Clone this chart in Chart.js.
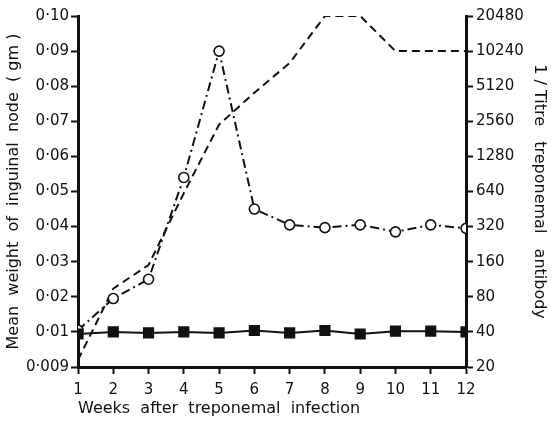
<!DOCTYPE html>
<html lang="en">
<head>
    <meta charset="UTF-8">
    <title>Inguinal node weight and treponemal antibody</title>
    <style>
        body, html {
            margin: 0;
            padding: 0;
            background: #fff;
        }
        .wrap {
            width: 553px;
            height: 422px;
        }
    </style>
</head>
<body>
    <div class="wrap"><canvas id="nodeChart" width="553" height="422"></canvas></div>
    <script src="https://cdn.jsdelivr.net/npm/chart.js"></script>
    <script>
        const weeks = [1, 2, 3, 4, 5, 6, 7, 8, 9, 10, 11, 12];
        const weightInfected = [0.0105, 0.0195, 0.025, 0.054, 0.090, 0.045, 0.0405, 0.0397, 0.0405, 0.0385, 0.0405, 0.0395];
        const weightControl = [0.00994, 0.0100, 0.00997, 0.0100, 0.00997, 0.0104, 0.00997, 0.0104, 0.00994, 0.0102, 0.0102, 0.0100];
        const titre = [23, 94, 150, 620, 2400, 4500, 8100, 20480, 20480, 10240, 10240, 10240];
        const weightTicks = ['0·009', '0·01', '0·02', '0·03', '0·04', '0·05', '0·06', '0·07', '0·08', '0·09', '0·10'];
        const titreTicks = ['20', '40', '80', '160', '320', '640', '1280', '2560', '5120', '10240', '20480'];

        // left axis: 0.009 at the foot, then 0.01 .. 0.10 evenly spaced
        function weightIdx(v) {
            return v >= 0.01 ? v * 100 : (v - 0.009) / 0.001;
        }
        // right axis: doubling dilutions from 1/20
        function titreIdx(t) {
            return Math.log2(t / 20);
        }

        const font = { family: 'DejaVu Sans', size: 15 };
        const titleFont = { family: 'DejaVu Sans', size: 16 };
        const black = '#111';

        new Chart(document.getElementById('nodeChart'), {
            type: 'line',
            data: {
                datasets: [
                    {
                        label: 'Control node weight',
                        data: weeks.map((w, i) => ({ x: w, y: weightIdx(weightControl[i]) })),
                        yAxisID: 'y',
                        borderColor: black,
                        borderWidth: 2,
                        pointStyle: 'rect',
                        pointRadius: 6.5,
                        pointBackgroundColor: black,
                        pointBorderColor: black,
                        tension: 0
                    },
                    {
                        label: 'Infected node weight',
                        data: weeks.map((w, i) => ({ x: w, y: weightIdx(weightInfected[i]) })),
                        yAxisID: 'y',
                        borderColor: black,
                        borderWidth: 2,
                        borderDash: [9, 4, 2, 4],
                        pointRadius: 5,
                        pointBackgroundColor: '#fff',
                        pointBorderColor: black,
                        pointBorderWidth: 1.6,
                        tension: 0
                    },
                    {
                        label: 'Titre',
                        data: weeks.map((w, i) => ({ x: w, y: titreIdx(titre[i]) })),
                        yAxisID: 'y2',
                        borderColor: black,
                        borderWidth: 2,
                        borderDash: [8, 5],
                        pointRadius: 0,
                        tension: 0
                    }
                ]
            },
            options: {
                responsive: false,
                animation: false,
                layout: { padding: { top: 16, right: 0, left: 0, bottom: 0 } },
                plugins: {
                    legend: { display: false },
                    tooltip: { enabled: false }
                },
                scales: {
                    x: {
                        type: 'linear',
                        min: 1,
                        max: 12,
                        afterBuildTicks: (axis) => {
                            axis.ticks = weeks.map(w => ({ value: w }));
                        },
                        afterFit: (scale) => { scale.height = 55; },
                        border: { color: black, width: 3 },
                        grid: { drawOnChartArea: false, tickLength: 7, tickColor: black, tickWidth: 2 },
                        ticks: { color: black, font: font, padding: 7, maxRotation: 0 },
                        title: {
                            display: true,
                            text: 'Weeks  after  treponemal  infection',
                            align: 'start',
                            color: black,
                            font: titleFont,
                            padding: { top: 1 }
                        }
                    },
                    y: {
                        type: 'linear',
                        position: 'left',
                        min: 0,
                        max: 10,
                        afterFit: (scale) => { scale.width = 78; },
                        border: { color: black, width: 3 },
                        grid: { drawOnChartArea: false, tickLength: 7, tickColor: black, tickWidth: 2 },
                        ticks: {
                            stepSize: 1,
                            color: black,
                            font: font,
                            padding: 2,
                            callback: (v) => weightTicks[v]
                        },
                        title: {
                            display: true,
                            text: 'Mean  weight  of  inguinal  node  ( gm )',
                            color: black,
                            font: titleFont,
                            padding: { top: 4, bottom: 4 }
                        }
                    },
                    y2: {
                        type: 'linear',
                        position: 'right',
                        min: 0,
                        max: 10,
                        afterFit: (scale) => { scale.width = 87; },
                        border: { color: black, width: 3 },
                        grid: { drawOnChartArea: false, tickLength: 7, tickColor: black, tickWidth: 2 },
                        ticks: {
                            stepSize: 1,
                            color: black,
                            font: font,
                            padding: 3,
                            callback: (v) => titreTicks[v]
                        },
                        title: {
                            display: true,
                            text: '1 / Titre   treponemal   antibody',
                            color: black,
                            font: titleFont,
                            padding: { top: 4, bottom: 4 }
                        }
                    }
                }
            }
        });
    </script>
</body>
</html>
